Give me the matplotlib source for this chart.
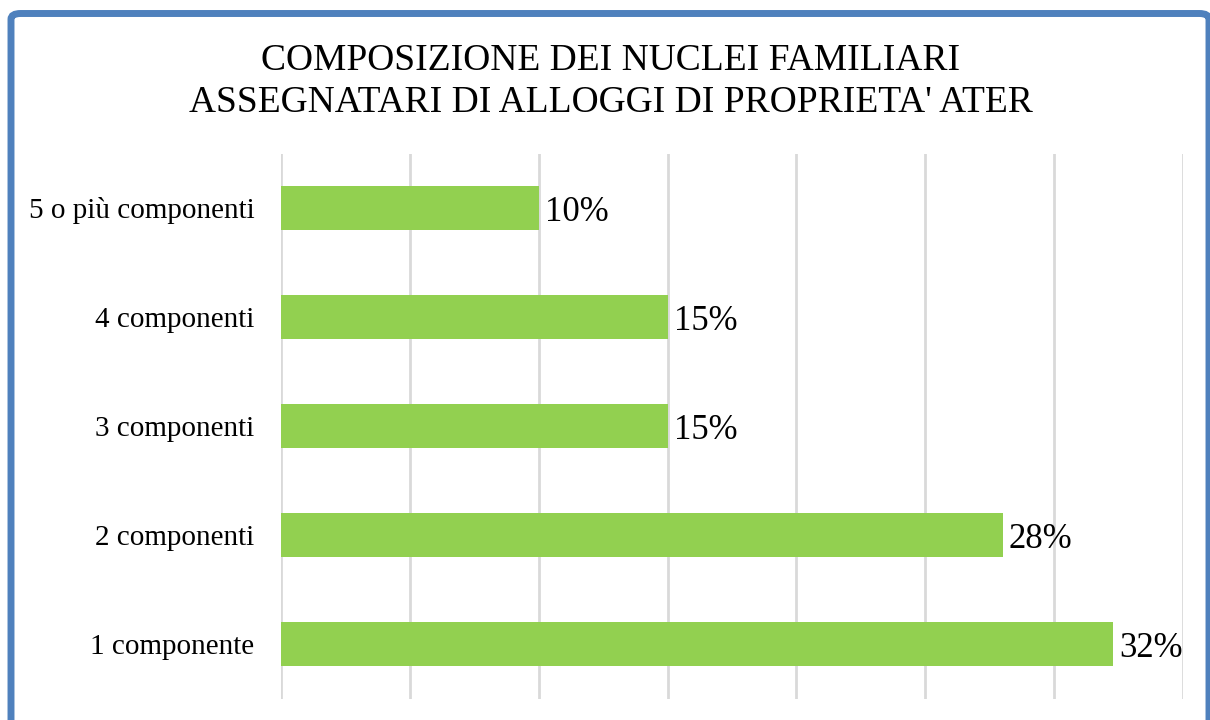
import matplotlib
matplotlib.use("Agg")
import matplotlib.pyplot as plt
from matplotlib.patches import FancyBboxPatch

# dati
categorie = ["1 componente", "2 componenti", "3 componenti", "4 componenti", "5 o più componenti"]
percentuali = [32.3, 28.0, 15.0, 15.0, 10.0]
titolo = "COMPOSIZIONE DEI NUCLEI FAMILIARI\nASSEGNATARI DI ALLOGGI DI PROPRIETA' ATER"

plt.rcParams['font.family'] = ['Liberation Serif', 'DejaVu Serif']

W, H = 1210, 720
fig = plt.figure(figsize=(W / 100, H / 100), dpi=100)
ax = fig.add_axes([281 / W, 1 - 698.5 / H, (1183 - 281) / W, (698.5 - 153.5) / H])

y = range(len(categorie))
barre = ax.barh(y, percentuali, height=0.40, color="#92D050", zorder=3)

for b, v in zip(barre, percentuali):
    ax.annotate(f"{v:.0f}%", (b.get_width(), b.get_y() + b.get_height() / 2),
                xytext=(4.5, -3), textcoords="offset points",
                va="center", ha="left", fontsize=25, color="black", zorder=4)

ax.set_xlim(0, 35)
ax.set_ylim(-0.5, len(categorie) - 0.5)
ax.set_xticks(range(0, 36, 5))
ax.set_xticklabels([])
ax.set_yticks(list(y))
ax.set_yticklabels(categorie, fontsize=21)
ax.tick_params(axis="both", length=0, pad=19)
ax.grid(axis="x", color="#D9D9D9", linewidth=2, zorder=0)
for s in ax.spines.values():
    s.set_visible(False)

fig.text(0.505, 1 - 82 / H, titolo, ha="center", va="center", fontsize=27,
         linespacing=1.27, color="black")

# cornice blu
cornice = FancyBboxPatch((11 / W, -0.2), (1209 - 11) / W, 1.2 - 13.5 / H,
                         boxstyle="round,pad=0,rounding_size=0.008",
                         transform=fig.transFigure, fill=False,
                         edgecolor="#4F81BD", linewidth=5, clip_on=False)
fig.patches.append(cornice)

fig.savefig("out.png", dpi=100)
